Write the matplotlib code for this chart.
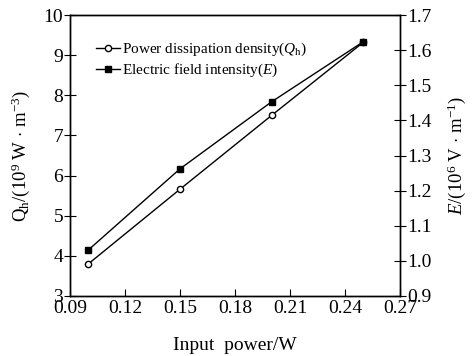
import matplotlib
matplotlib.use("Agg")
import matplotlib.pyplot as plt

plt.rcParams['font.family'] = ['Liberation Serif', 'DejaVu Serif']
plt.rcParams['mathtext.fontset'] = 'custom'
plt.rcParams['mathtext.rm'] = 'Liberation Serif'
plt.rcParams['mathtext.it'] = 'Liberation Serif:italic'
plt.rcParams['mathtext.bf'] = 'Liberation Serif:bold'

power = [0.10, 0.15, 0.20, 0.25]
q_density = [3.80, 5.66, 7.50, 9.32]
e_field = [1.031, 1.262, 1.453, 1.624]

x_ticks = [0.09, 0.12, 0.15, 0.18, 0.21, 0.24, 0.27]
q_ticks = [3, 4, 5, 6, 7, 8, 9, 10]
e_ticks = [0.9, 1.0, 1.1, 1.2, 1.3, 1.4, 1.5, 1.6, 1.7]

fig = plt.figure(figsize=(4.77, 3.56), dpi=100)
ax = fig.add_axes([70/477, 60/356, 330/477, 281/356])
ax2 = ax.twinx()

l1, = ax.plot(power, q_density, '-', color='black', lw=1.0, marker='o', ms=4.5,
              mfc='white', mec='black', mew=1.0)
l2, = ax2.plot(power, e_field, '-', color='black', lw=1.0, marker='s', ms=4.5,
               mfc='black', mec='black')

ax.set_xlim(0.09, 0.27)
ax.set_ylim(3, 10)
ax2.set_ylim(0.9, 1.7)
ax.set_xticks(x_ticks)
ax.set_xticklabels([f"{v:.2f}" for v in x_ticks])
ax.set_yticks(q_ticks)
ax2.set_yticks(e_ticks)
ax2.set_yticklabels([f"{v:.1f}" for v in e_ticks])

ax.tick_params(axis='x', direction='in', length=5, width=0.8, labelsize=14, pad=3)
ax.tick_params(axis='y', direction='inout', length=8, width=0.8, labelsize=14, pad=1)
ax2.tick_params(axis='y', direction='inout', length=8, width=0.8, labelsize=14, pad=1)

for a in (ax, ax2):
    for s in a.spines.values():
        s.set_linewidth(1.0)

ax.set_xlabel('Input  power/W', fontsize=14, labelpad=14)
ax.set_ylabel(r'Q$_{\rm h}$/(10$^{9}$ W$\,\cdot\,$m$^{-3}$)', fontsize=13.5, labelpad=8)
ax2.set_ylabel(r'$E$/(10$^{6}$ V$\,\cdot\,$m$^{-1}$)', fontsize=13.5, labelpad=10)

ax.legend([l1, l2], [r'Power dissipation density($Q_{\rm h}$)', r'Electric field intensity($E$)'],
          loc='upper left', bbox_to_anchor=(0.06, 0.93), frameon=False, fontsize=11,
          handlelength=1.6, handletextpad=0.1, labelspacing=0.25, borderaxespad=0)

fig.savefig('out.png', dpi=100)
